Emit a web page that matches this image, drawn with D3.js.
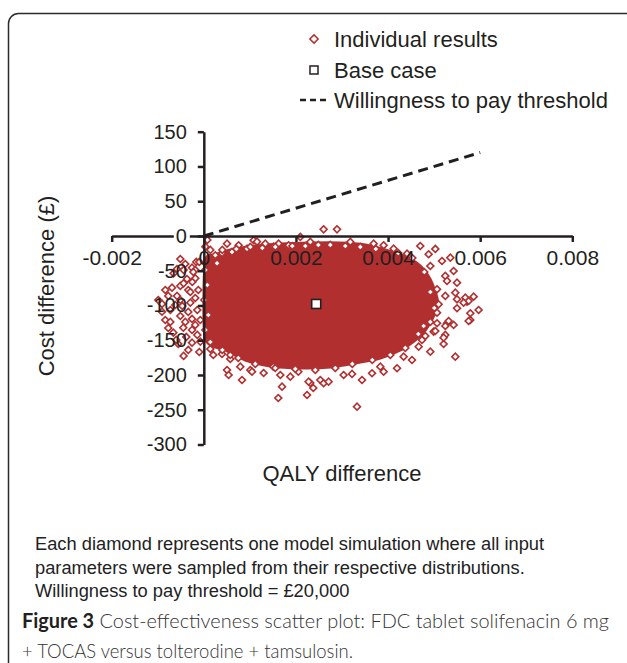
<!DOCTYPE html>
<html>
<head>
<meta charset="utf-8">
<script src="https://cdn.jsdelivr.net/npm/d3@7"></script>
<style>
  body { margin: 0; background: #fff; }
  svg { display: block; }
  .axis text { font-family: "Liberation Sans", Arial, sans-serif; fill: #231f20; }
  .axis line, .axis path { stroke: #231f20; }
</style>
</head>
<body>
<svg id="chart"></svg>
<script>
// axis ticks
var xTicks = [-0.002, 0, 0.002, 0.004, 0.006, 0.008];
var xTickLabels = ["-0.002", "0", "0.002", "0.004", "0.006", "0.008"];
var yTicks = [150, 100, 50, 0, -50, -100, -150, -200, -250, -300];
var yTickLabels = ["150", "100", "50", "0", "-50", "-100", "-150", "-200", "-250", "-300"];

// willingness to pay line (£20,000 per QALY)
var wtpLine = [[0, 0], [0.006, 120]];

// base case [QALY difference, cost difference]
var baseCase = [0.00244, -97.8];

// outline of the solid mass of overlapping simulations
var cloudOutline = [
  [0.00003, -37.4], [0.00025, -27.3], [0.000575, -20.1], [0.00112, -14.4], [0.00166, -11.5],
  [0.00231, -10.1], [0.00296, -10.1], [0.00351, -12.9], [0.00394, -20.1], [0.00438, -30.2],
  [0.0047, -43.2], [0.00492, -63.3], [0.00507, -92.1], [0.005, -113.7], [0.00481, -135.3],
  [0.00459, -149.6], [0.00427, -164.0], [0.00383, -175.5], [0.0034, -181.3], [0.00275, -188.5],
  [0.0021, -189.9], [0.00144, -187.0], [0.0009, -178.4], [0.00047, -164.0], [0.00003, -146.7]
];

// individual simulations visible around the edge of the cloud
var individualResults = [
  // left of the y axis
  [-0.00051, -33.1], [-0.000256, -45.6], [-0.000582, -47.5], [-0.000365, -61.9], [-0.00069, -74.4],
  [-0.00051, -71.9], [-0.000908, -97.8], [-0.000582, -86.3], [-0.000293, -96.0], [-0.00051, -115.1],
  [-0.000256, -119.4], [-0.000445, -131.9], [-0.000662, -139.1], [-0.000256, -153.5], [-0.000439, -172.6],
  [-0.000402, -123.7], [-0.000256, -135.2], [-0.000076, -152.1], [-0.000656, -53.7], [-0.000439, -48.9],
  [-0.000185, -60.9], [-0.000439, -68.1], [-0.000908, -108.9], [-0.000163, -37.4], [-0.000771, -86.3],
  [-0.000119, -77.7], [-0.000836, -120.9], [-0.000141, -106.5], [-0.000337, -164.0], [-0.000098, -166.9],
  [-0.000185, -48.9], [0.000033, -15.4], [-0.000619, -99.3], [-0.000337, -77.7], [-0.000727, -123.7],
  [-0.000185, -89.2], [-0.00038, -145.3], [-0.000554, -155.4], [-0.00025, -66.2],
  [-0.000836, -77.7], [-0.000988, -92.1], [-0.000727, -106.5], [-0.00051, -92.1], [-0.000337, -109.3],
  [-0.000185, -128.0], [-0.000597, -149.6], [-0.000771, -132.4], [-0.000402, -40.3], [-0.000293, -80.6],
  [-0.000467, -100.7], [-0.000141, -142.4], [-0.000228, -51.8],
  [0.000033, -48.9], [0.000076, -70.5], [0.000011, -92.1], [0.000098, -113.7], [0.000033, -135.2],
  [-0.000098, -37.4], [-0.000076, -120.9],
  // bottom edge
  [0.000141, -162.6], [0.000395, -169.8], [0.000575, -177.0], [0.000575, -171.2], [0.000504, -192.8],
  [0.000538, -200.0], [0.000829, -207.2], [0.00101, -192.8], [0.001298, -197.1], [0.001698, -216.8],
  [0.001617, -233.1], [0.002241, -228.8], [0.002312, -211.5], [0.002377, -218.7], [0.002529, -207.2],
  [0.000206, -171.2], [0.000792, -188.0], [0.001046, -195.2], [0.001661, -200.0], [0.001878, -202.4],
  [0.001118, -182.7], [0.001509, -188.0], [0.002052, -195.2], [0.002275, -209.6], [0.002601, -211.9],
  [0.002709, -209.6], [0.003035, -200.0], [0.003218, -198.5], [0.003435, -207.2], [0.003652, -197.5],
  [0.003904, -195.2], [0.004195, -190.3], [0.003832, -188.0], [0.00452, -178.4], [0.004338, -173.6],
  [0.004918, -166.5], [0.004737, -149.6], [0.004664, -159.3], [0.00546, -173.6], [0.005206, -155.4],
  [0.005243, -142.4], [0.004989, -137.7], [0.00528, -125.6], [0.005423, -128.0], [0.005063, -125.6],
  [0.005786, -120.9], [0.005966, -106.5], [0.005786, -111.2], [0.005497, -104.0], [0.005714, -94.5],
  [0.003326, -245.6],
  [0.004375, -161.1], [0.004049, -171.2], [0.003658, -178.4], [0.003224, -184.1], [0.002855, -189.9],
  [0.002421, -192.8], [0.001987, -191.3], [0.001552, -189.9], [0.001118, -184.1], [0.000749, -175.5],
  [0.000402, -164.0], [0.000141, -152.5],
  // right edge
  [0.004881, -26.3], [0.005171, -36.0], [0.005352, -31.2], [0.004918, -43.2], [0.005423, -50.4],
  [0.005243, -57.5], [0.00528, -64.7], [0.005497, -67.2], [0.005063, -76.7], [0.00546, -81.6],
  [0.005243, -86.3], [0.005497, -91.1], [0.005677, -88.8], [0.005858, -87.3], [0.005749, -93.5],
  [0.00564, -96.0], [0.005749, -122.3], [0.005098, -98.3], [0.005063, -110.3], [0.005315, -122.3],
  [0.005243, -129.5], [0.005026, -136.7], [0.005206, -146.3], [0.004809, -143.9], [0.004772, -129.5],
  [0.005026, -18.7], [0.0047, -14.4],
  [0.004787, -51.8], [0.004918, -80.6], [0.005004, -103.6], [0.004918, -123.7], [0.004657, -141.0],
  // top edge
  [0.002601, 9.6], [0.002892, 9.6], [0.00025, -27.8], [0.000504, -11.1], [0.000756, -13.4],
  [0.001081, -6.2], [0.001335, -11.1], [0.001624, -11.1], [0.001841, -13.4], [0.002095, -1.4],
  [0.002312, -8.6], [0.002486, -12.9], [0.003181, -8.6], [0.003687, -11.1], [0.003904, -13.4],
  [0.004121, -18.3], [0.004412, -25.5], [0.000938, -18.3], [0.000612, -23.0], [0.000287, -39.3],
  [0.000395, -24.9], [0.001155, -8.2], [0.001515, -15.4], [0.000076, -5.8], [0.000141, -20.1],
  [0.000402, -20.1], [0.000706, -18.7], [0.00101, -15.8], [0.00127, -17.3], [0.001552, -15.8],
  [0.001921, -14.4], [0.002204, -14.4], [0.002746, -12.9], [0.003072, -14.4], [0.003398, -15.8],
  [0.003734, -18.7], [0.004222, -24.5], [0.004527, -31.7]
];

var legendItems = ["Individual results", "Base case", "Willingness to pay threshold"];
var noteLines = [
  "Each diamond represents one model simulation where all input",
  "parameters were sampled from their respective distributions.",
  "Willingness to pay threshold = £20,000"
];

var W = 627, H = 663;
var red = "#b22f30", ink = "#231f20";

var svg = d3.select("#chart").attr("width", W).attr("height", H);

// panel frame
svg.append("rect")
  .attr("x", 8.5).attr("y", 13.5).attr("width", 628).attr("height", 700)
  .attr("rx", 10).attr("fill", "none").attr("stroke", "#2b2b2b").attr("stroke-width", 1.5);

// set the ranges
var x = d3.scaleLinear().domain([-0.002, 0.008]).range([111.7, 572.3]);
var y = d3.scaleLinear().domain([-300, 150]).range([444.5, 131.7]);

var diamond = d3.symbol().type(d3.symbolSquare).size(24);

// dense mass of points
svg.append("path")
  .datum(cloudOutline)
  .attr("d", d3.line().x(d => x(d[0])).y(d => y(d[1])).curve(d3.curveCardinalClosed.tension(0.3)))
  .attr("fill", red).attr("stroke", red).attr("stroke-width", 3);

// individual results
svg.append("g").selectAll("path")
  .data(individualResults)
  .join("path")
  .attr("d", diamond)
  .attr("transform", d => "translate(" + x(d[0]) + "," + y(d[1]) + ") rotate(45)")
  .attr("fill", "#fff").attr("stroke", red).attr("stroke-width", 1.6);

// willingness to pay threshold
svg.append("path")
  .datum(wtpLine)
  .attr("d", d3.line().x(d => x(d[0])).y(d => y(d[1])))
  .attr("stroke", ink).attr("stroke-width", 3).attr("stroke-dasharray", "10,6")
  .attr("fill", "none");

// X axis at cost = 0
var xAxis = svg.append("g").attr("class", "axis")
  .attr("transform", "translate(0," + y(0) + ")")
  .call(d3.axisBottom(x).tickValues(xTicks).tickSize(6).tickSizeOuter(0).tickPadding(8)
    .tickFormat((d, i) => xTickLabels[i]));
xAxis.selectAll("text").attr("font-size", 21);

// Y axis at QALY = 0
var yAxis = svg.append("g").attr("class", "axis")
  .attr("transform", "translate(" + x(0) + ",0)")
  .call(d3.axisLeft(y).tickValues(yTicks).tickSize(6).tickSizeOuter(0).tickPadding(11)
    .tickFormat((d, i) => yTickLabels[i]));
yAxis.selectAll("text").attr("font-size", 20);
svg.selectAll(".axis path.domain").attr("stroke-width", 2.5);
svg.selectAll(".axis .tick line").attr("stroke-width", 2.5);

// white patch behind the y "0" label where it crosses the x axis
yAxis.selectAll(".tick").filter(d => d === 0).insert("rect", "text")
  .attr("x", -30).attr("y", -4).attr("width", 16).attr("height", 8).attr("fill", "#fff");

// base case
svg.append("rect")
  .attr("x", x(baseCase[0]) - 4.5).attr("y", y(baseCase[1]) - 4.5)
  .attr("width", 9).attr("height", 9)
  .attr("fill", "#fff").attr("stroke", ink).attr("stroke-width", 1.6);

// axis titles
svg.append("text")
  .attr("x", 342).attr("y", 481).attr("text-anchor", "middle")
  .attr("font-family", "Liberation Sans, Arial, sans-serif").attr("font-size", 22).attr("fill", ink)
  .text("QALY difference");
svg.append("text")
  .attr("transform", "translate(54,286) rotate(-90)").attr("text-anchor", "middle")
  .attr("font-family", "Liberation Sans, Arial, sans-serif").attr("font-size", 22).attr("fill", ink)
  .text("Cost difference (£)");

// legend
var legend = svg.append("g").attr("transform", "translate(314,39)");
legend.append("path")
  .attr("d", d3.symbol().type(d3.symbolSquare).size(34)())
  .attr("transform", "rotate(45)")
  .attr("fill", "#fff").attr("stroke", red).attr("stroke-width", 1.5);
legend.append("rect")
  .attr("x", -4).attr("y", 27).attr("width", 8).attr("height", 8)
  .attr("fill", "#fff").attr("stroke", ink).attr("stroke-width", 1.5);
legend.append("line")
  .attr("x1", -14).attr("x2", 14).attr("y1", 61).attr("y2", 61)
  .attr("stroke", ink).attr("stroke-width", 2.5).attr("stroke-dasharray", "6,4");
legend.selectAll("text")
  .data(legendItems)
  .join("text")
  .attr("x", 20).attr("y", (d, i) => 8 + i * 30.5)
  .attr("font-family", "Liberation Sans, Arial, sans-serif").attr("font-size", 22).attr("fill", ink)
  .text(d => d);

// note under the plot
svg.append("g").selectAll("text")
  .data(noteLines)
  .join("text")
  .attr("x", 35).attr("y", (d, i) => 550 + i * 23.5)
  .attr("font-family", "Liberation Sans, Arial, sans-serif").attr("font-size", 18.3).attr("fill", "#222")
  .text(d => d);

// figure caption
var cap1 = svg.append("text")
  .attr("x", 22).attr("y", 628)
  .attr("font-family", "Lato, 'Open Sans', sans-serif").attr("font-size", 20).attr("fill", "#333")
  .attr("textLength", 587).attr("lengthAdjust", "spacingAndGlyphs");
cap1.append("tspan").attr("font-weight", "bold").attr("fill", "#231f20").text("Figure 3");
cap1.append("tspan").attr("font-weight", 300).text(" Cost-effectiveness scatter plot: FDC tablet solifenacin 6 mg");
svg.append("text")
  .attr("x", 22).attr("y", 658)
  .attr("font-family", "Lato, 'Open Sans', sans-serif").attr("font-size", 20).attr("font-weight", 300).attr("fill", "#333")
  .attr("textLength", 331).attr("lengthAdjust", "spacingAndGlyphs")
  .text("+ TOCAS versus tolterodine + tamsulosin.");
</script>
</body>
</html>
